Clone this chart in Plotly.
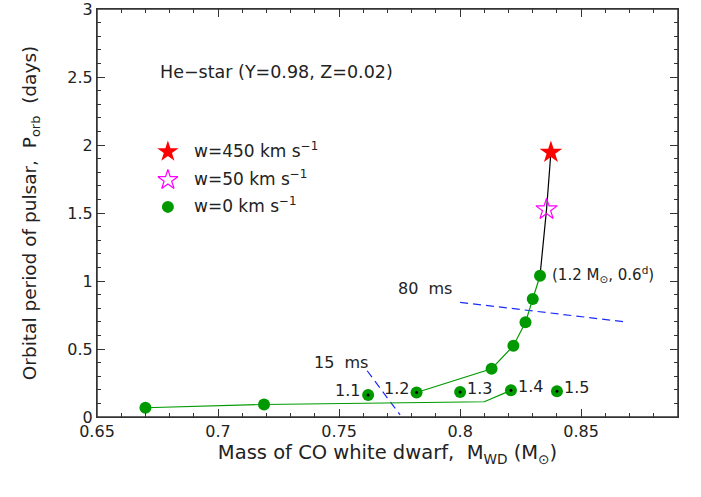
import plotly.graph_objects as go

# lower track (w=0), no black centre on the first two
low_x = [0.670, 0.719, 0.810, 0.821]
low_y = [0.068, 0.092, 0.112, 0.196]

# upper track from the 1.2 point up to (1.2 Msun, 0.6 d)
up_x = [0.782, 0.813, 0.822, 0.827, 0.830, 0.833]
up_y = [0.180, 0.355, 0.524, 0.696, 0.868, 1.039]

# points labelled by mass
lab_x = [0.762, 0.782, 0.800, 0.821, 0.840]
lab_y = [0.162, 0.180, 0.183, 0.196, 0.190]
lab_txt = ["1.1", "1.2", "1.3", "1.4", "1.5"]

# kick velocity track
kick_x = [0.833, 0.8357, 0.8375]
kick_y = [1.039, 1.527, 1.946]

# spin-period lines
ms80_x = [0.800, 0.868]
ms80_y = [0.843, 0.700]
ms15_x = [0.7616, 0.7752]
ms15_y = [0.340, 0.015]

# hand-made legend (in a 0..1 overlay axis)
leg_names = ["w=450 km s<sup>\u22121</sup>", "w=50 km s<sup>\u22121</sup>", "w=0 km s<sup>\u22121</sup>"]
leg_x = [0.122, 0.122, 0.122]
leg_y = [0.650, 0.581, 0.515]

GREEN = "#009a00"
FONT = "DejaVu Sans"
TXT = "#222222"
AX = "#333333"
DASH = "8px,5px"

fig = go.Figure()

fig.add_trace(go.Scatter(x=ms80_x, y=ms80_y, mode="lines",
                         line=dict(color="#1a2bff", width=1.2, dash=DASH)))
fig.add_trace(go.Scatter(x=ms15_x, y=ms15_y, mode="lines",
                         line=dict(color="#1a2bff", width=1.2, dash=DASH)))

fig.add_trace(go.Scatter(x=kick_x, y=kick_y, mode="lines",
                         line=dict(color="black", width=1.2)))
fig.add_trace(go.Scatter(x=low_x, y=low_y, mode="lines",
                         line=dict(color=GREEN, width=1.2)))
fig.add_trace(go.Scatter(x=up_x, y=up_y, mode="lines",
                         line=dict(color=GREEN, width=1.2)))

# green dots
fig.add_trace(go.Scatter(x=low_x[:2] + up_x[1:], y=low_y[:2] + up_y[1:], mode="markers",
                         marker=dict(color=GREEN, size=12, opacity=1)))
fig.add_trace(go.Scatter(x=lab_x, y=lab_y, mode="markers",
                         marker=dict(color=GREEN, size=12, opacity=1)))
fig.add_trace(go.Scatter(x=lab_x, y=lab_y, mode="markers",
                         marker=dict(color="black", size=3, opacity=1)))

# stars
fig.add_trace(go.Scatter(x=[kick_x[2]], y=[kick_y[2]], mode="markers",
                         marker=dict(symbol="star", color="#ff0000", size=17, opacity=1,
                                     line=dict(width=0))))
fig.add_trace(go.Scatter(x=[kick_x[1]], y=[kick_y[1]], mode="markers",
                         marker=dict(symbol="star-open", color="#ff00ff", size=16, opacity=1,
                                     line=dict(width=1.2))))

# legend symbols
leg_style = [("star", "#ff0000", 16, 0), ("star-open", "#ff00ff", 15, 1.2), ("circle", GREEN, 12, 0)]
for xv, yv, (sym, col, sz, lw) in zip(leg_x, leg_y, leg_style):
    fig.add_trace(go.Scatter(x=[xv], y=[yv], mode="markers", xaxis="x2", yaxis="y2",
                             marker=dict(symbol=sym, color=col, size=sz, opacity=1,
                                         line=dict(width=lw, color=col))))
for xv, yv, t in zip(leg_x, leg_y, leg_names):
    fig.add_annotation(x=xv, y=yv, xref="x2", yref="y2", text=t, showarrow=False,
                       xanchor="left", xshift=24, yshift=2,
                       font=dict(size=17, family=FONT, color=TXT))

for xv, yv, t in zip(lab_x, lab_y, lab_txt):
    if t in ("1.1", "1.2"):
        fig.add_annotation(x=xv, y=yv, text=t, showarrow=False, xanchor="right",
                           xshift=-6, yshift=4, font=dict(size=16, family=FONT, color=TXT))
    else:
        fig.add_annotation(x=xv, y=yv, text=t, showarrow=False, xanchor="left",
                           xshift=5, yshift=4, font=dict(size=16, family=FONT, color=TXT))

fig.add_annotation(x=up_x[-1], y=up_y[-1], text="(1.2 M<sub>\u2299</sub>, 0.6<sup>d</sup>)",
                   showarrow=False, xanchor="left", xshift=10, yshift=1,
                   font=dict(size=15, family=FONT, color=TXT))
fig.add_annotation(x=ms80_x[0], y=ms80_y[0], text="80  ms", showarrow=False,
                   xanchor="right", xshift=-6, yshift=14,
                   font=dict(size=16, family=FONT, color=TXT))
fig.add_annotation(x=ms15_x[0], y=ms15_y[0], text="15  ms", showarrow=False,
                   xanchor="center", xshift=-26, yshift=8,
                   font=dict(size=16, family=FONT, color=TXT))
fig.add_annotation(xref="paper", yref="paper", x=0.105, y=0.846,
                   text="He\u2212star (Y=0.98, Z=0.02)", showarrow=False,
                   xanchor="left", yanchor="middle",
                   font=dict(size=17.5, family=FONT, color=TXT))

# frame round the plot area (the top edge does not come out from the axis mirror)
fig.add_shape(type="rect", xref="paper", yref="paper", x0=0, x1=1, y0=0, y1=1,
              line=dict(color=AX, width=1.5), layer="below")

axis_common = dict(showline=True, linecolor=AX, linewidth=1.2,
                   ticks="inside", ticklen=8, tickcolor=AX, tickwidth=1,
                   showgrid=False, zeroline=False, automargin=False,
                   ticklabeloverflow="allow",
                   tickfont=dict(size=16, family=FONT, color=TXT))
x_minor = dict(dtick=0.01, ticks="inside", ticklen=4, tickcolor=AX)

fig.update_xaxes(range=[0.65, 0.89], tick0=0.65, dtick=0.05, minor=x_minor, mirror="ticks",
                 title=dict(text="Mass of CO white dwarf,  M<sub>WD</sub> (M<sub>\u2299</sub>)",
                            font=dict(size=19.5, family=FONT, color=TXT), standoff=5),
                 **axis_common)
fig.update_yaxes(range=[0, 3], dtick=0.5, mirror="ticks",
                 minor=dict(dtick=0.1, ticks="inside", ticklen=4, tickcolor=AX),
                 title=dict(text="Orbital period of pulsar,  P<sub>orb</sub>  (days)",
                            font=dict(size=18.5, family=FONT, color=TXT), standoff=25),
                 **axis_common)

fig.update_layout(width=701, height=497, plot_bgcolor="white", paper_bgcolor="white",
                  margin=dict(l=97, r=23, t=9, b=80), showlegend=False,
                  xaxis2=dict(overlaying="x", range=[0, 1], visible=False),
                  yaxis2=dict(overlaying="y", range=[0, 1], visible=False))

# drop the page's default body margin so the figure sits at the top-left corner
fig.write_html("out.html", config={"displayModeBar": False},
               post_script="document.body.style.margin='0';")
